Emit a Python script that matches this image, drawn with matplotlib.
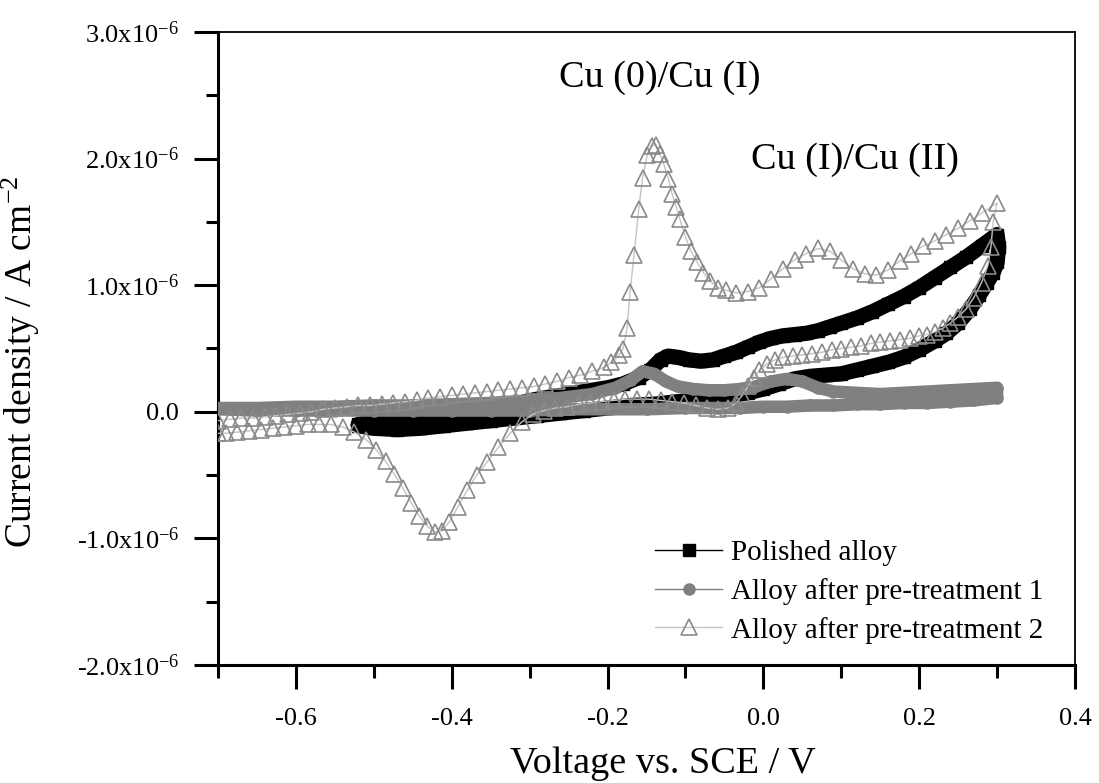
import numpy as np
import matplotlib
matplotlib.use("Agg")
import matplotlib.pyplot as plt
from matplotlib.ticker import MultipleLocator, FuncFormatter

plt.rcParams['font.family'] = ['Liberation Serif', 'DejaVu Serif']
plt.rcParams['mathtext.fontset'] = 'custom'
plt.rcParams['mathtext.rm'] = 'Liberation Serif'
plt.rcParams['mathtext.it'] = 'Liberation Serif:italic'

# corrente em unidades de 1e-6 A cm^-2
# polido - varredura anodica
pol_v_fwd = [-0.52, -0.50, -0.47, -0.44, -0.41, -0.38, -0.35, -0.32, -0.29, -0.26,
             -0.23, -0.20, -0.18, -0.16, -0.145, -0.132, -0.122, -0.110, -0.095, -0.080,
             -0.065, -0.050, -0.035, -0.020, -0.005, 0.010, 0.025, 0.040, 0.055, 0.070,
             0.085, 0.100, 0.120, 0.140, 0.160, 0.180, 0.200, 0.220, 0.240, 0.260,
             0.280, 0.300]
pol_i_fwd = [-0.10, -0.08, -0.06, -0.04, -0.02, 0.00, 0.03, 0.06, 0.10, 0.13,
             0.16, 0.19, 0.22, 0.27, 0.33, 0.41, 0.44, 0.43, 0.41, 0.40,
             0.41, 0.44, 0.47, 0.51, 0.55, 0.58, 0.60, 0.61, 0.62, 0.64,
             0.67, 0.70, 0.74, 0.79, 0.85, 0.91, 0.98, 1.06, 1.14, 1.22,
             1.31, 1.40]
# polido - varredura catodica
pol_v_rev = [0.302, 0.300, 0.295, 0.287, 0.277, 0.265, 0.250, 0.235, 0.220, 0.200,
             0.180, 0.160, 0.140, 0.120, 0.100, 0.080, 0.060, 0.040, 0.020, 0.000,
             -0.020, -0.050, -0.080, -0.110, -0.140, -0.170, -0.200, -0.230, -0.260, -0.290,
             -0.320, -0.350, -0.380, -0.410, -0.440, -0.470, -0.500, -0.520]
pol_i_rev = [1.30, 1.18, 1.10, 1.02, 0.92, 0.81, 0.70, 0.62, 0.56, 0.49,
             0.43, 0.39, 0.36, 0.33, 0.30, 0.29, 0.28, 0.26, 0.22, 0.18,
             0.15, 0.12, 0.10, 0.08, 0.06, 0.05, 0.03, 0.01, -0.01, -0.03,
             -0.05, -0.07, -0.09, -0.11, -0.13, -0.14, -0.13, -0.11]

# pre-tratamento 1
pt1_v_fwd = [-0.70, -0.65, -0.60, -0.55, -0.50, -0.45, -0.40, -0.35, -0.30, -0.26,
             -0.22, -0.19, -0.17, -0.155, -0.14, -0.125, -0.11, -0.09, -0.07, -0.05,
             -0.03, -0.01, 0.01, 0.03, 0.05, 0.07, 0.09, 0.12, 0.15, 0.18,
             0.21, 0.24, 0.27, 0.30]
pt1_i_fwd = [0.03, 0.03, 0.04, 0.04, 0.05, 0.05, 0.06, 0.07, 0.09, 0.11,
             0.14, 0.19, 0.25, 0.32, 0.30, 0.24, 0.20, 0.18, 0.17, 0.17,
             0.18, 0.20, 0.24, 0.26, 0.24, 0.19, 0.16, 0.15, 0.14, 0.15,
             0.16, 0.17, 0.18, 0.19]
pt1_v_rev = [0.30, 0.27, 0.24, 0.21, 0.18, 0.15, 0.12, 0.09, 0.06, 0.03,
             0.00, -0.03, -0.06, -0.10, -0.15, -0.20, -0.25, -0.30, -0.35, -0.40,
             -0.45, -0.50, -0.55, -0.60, -0.65, -0.70]
pt1_i_rev = [0.11, 0.09, 0.08, 0.07, 0.07, 0.06, 0.06, 0.05, 0.05, 0.04,
             0.04, 0.03, 0.03, 0.03, 0.02, 0.02, 0.02, 0.01, 0.01, 0.01,
             0.01, 0.01, 0.01, 0.01, 0.01, 0.02]

# pre-tratamento 2
pt2_v_fwd = [-0.700, -0.685, -0.670, -0.655, -0.640, -0.625, -0.610, -0.595, -0.580, -0.565,
             -0.550, -0.535, -0.520, -0.505, -0.490, -0.475, -0.460, -0.445, -0.430, -0.415,
             -0.400, -0.385, -0.370, -0.355, -0.340, -0.325, -0.310, -0.295, -0.280, -0.265,
             -0.250, -0.235, -0.220, -0.205, -0.195, -0.185, -0.180,
             -0.175, -0.171, -0.166, -0.160, -0.155, -0.149, -0.143, -0.138, -0.133, -0.128,
             -0.122, -0.117, -0.112, -0.107, -0.100, -0.093, -0.085, -0.077, -0.068, -0.058,
             -0.048, -0.035, -0.020, -0.005, 0.010, 0.025, 0.040, 0.055, 0.070, 0.085,
             0.100, 0.115, 0.130, 0.145, 0.160, 0.175, 0.190, 0.205, 0.220, 0.235,
             0.250, 0.265, 0.280, 0.300]
pt2_i_fwd = [-0.07, -0.06, -0.05, -0.05, -0.04, -0.03, -0.02, -0.01, 0.00, 0.02,
             0.03, 0.04, 0.05, 0.05, 0.06, 0.07, 0.08, 0.09, 0.11, 0.12,
             0.13, 0.14, 0.15, 0.16, 0.17, 0.18, 0.19, 0.20, 0.22, 0.24,
             0.27, 0.29, 0.32, 0.35, 0.39, 0.45, 0.50,
             0.66, 0.95, 1.24, 1.60, 1.85, 2.03, 2.10, 2.11, 2.04, 1.96,
             1.84, 1.72, 1.62, 1.52, 1.38, 1.27, 1.18, 1.10, 1.03, 0.98,
             0.96, 0.94, 0.95, 0.98, 1.05, 1.13, 1.20, 1.25, 1.29, 1.27,
             1.20, 1.13, 1.09, 1.08, 1.12, 1.19, 1.25, 1.31, 1.35, 1.40,
             1.45, 1.51, 1.57, 1.65]
pt2_v_rev = [0.295, 0.292, 0.288, 0.280, 0.270, 0.260, 0.250, 0.240, 0.230, 0.220,
             0.210, 0.200, 0.188, 0.175, 0.162, 0.150, 0.138, 0.125, 0.112, 0.100,
             0.088, 0.075, 0.062, 0.050, 0.038, 0.025, 0.015, 0.005, -0.005, -0.012,
             -0.020, -0.027, -0.035, -0.045, -0.058, -0.072, -0.087, -0.102, -0.117, -0.132,
             -0.147, -0.162, -0.177, -0.192, -0.207, -0.222, -0.237, -0.252, -0.267, -0.282,
             -0.296, -0.310, -0.325, -0.340, -0.355, -0.368, -0.380, -0.392, -0.403, -0.413,
             -0.422, -0.432, -0.442, -0.452, -0.463, -0.474, -0.485, -0.497, -0.510, -0.525,
             -0.540, -0.555, -0.570, -0.585, -0.600, -0.615, -0.630, -0.645, -0.660, -0.675,
             -0.690, -0.700]
pt2_i_rev = [1.50, 1.30, 1.15, 1.02, 0.90, 0.81, 0.75, 0.70, 0.66, 0.63,
             0.61, 0.60, 0.58, 0.57, 0.56, 0.55, 0.54, 0.52, 0.51, 0.50,
             0.49, 0.47, 0.46, 0.45, 0.44, 0.43, 0.41, 0.38, 0.33, 0.27,
             0.20, 0.13, 0.07, 0.03, 0.02, 0.03, 0.05, 0.07, 0.08, 0.09,
             0.10, 0.10, 0.10, 0.09, 0.08, 0.07, 0.06, 0.04, 0.03, 0.01,
             -0.02, -0.08, -0.17, -0.28, -0.40, -0.50, -0.62, -0.75, -0.87, -0.94,
             -0.95, -0.90, -0.82, -0.72, -0.60, -0.49, -0.39, -0.30, -0.22, -0.16,
             -0.12, -0.10, -0.10, -0.10, -0.11, -0.12, -0.13, -0.14, -0.15, -0.16,
             -0.17, -0.17]

labels = ["Polished alloy", "Alloy after pre-treatment 1", "Alloy after pre-treatment 2"]


def loop(v_fwd, i_fwd, v_rev, i_rev):
    v = np.array(v_fwd + v_rev)
    i = np.array(i_fwd + i_rev) * 1e-6
    return v, i


fig = plt.figure(figsize=(10.99, 7.83), dpi=100)
ax = fig.add_axes([218 / 1099, 1 - 665 / 783, 857 / 1099, 633 / 783])

# polido (por baixo)
v, i = loop(pol_v_fwd, pol_i_fwd, pol_v_rev, pol_i_rev)
ax.plot(v, i, color='black', lw=11, solid_capstyle='round', zorder=2)
ax.plot(v, i, color='black', lw=1, marker='s', ms=9, label=labels[0], zorder=3)

# pre-tratamento 1
v, i = loop(pt1_v_fwd, pt1_i_fwd, pt1_v_rev, pt1_i_rev)
ax.plot(v, i, color='#808080', lw=9, solid_capstyle='round', zorder=4)
ax.plot(v, i, color='#808080', lw=1, marker='o', ms=8, mec='#808080', mfc='#808080',
        label=labels[1], zorder=5)

# pre-tratamento 2 (triangulos vazados, por cima)
v, i = loop(pt2_v_fwd, pt2_i_fwd, pt2_v_rev, pt2_i_rev)
ax.plot(v, i, color='#c4c4c4', lw=1, marker='^', ms=12, mec='#8a8a8a', mfc='none',
        mew=1.2, label=labels[2], zorder=6)

ax.set_xlim(-0.7, 0.4)
ax.set_ylim(-2.0e-6, 3.0e-6)
ax.xaxis.set_major_locator(MultipleLocator(0.2))
ax.xaxis.set_minor_locator(MultipleLocator(0.1))
ax.yaxis.set_major_locator(MultipleLocator(1.0e-6))
ax.yaxis.set_minor_locator(MultipleLocator(0.5e-6))
ax.xaxis.set_major_formatter(FuncFormatter(lambda x, p: f"{x:.1f}"))


def yfmt(y, p):
    if abs(y) < 1e-12:
        return "0.0"
    return f"{y * 1e6:.1f}x10$^{{-6}}$"


ax.yaxis.set_major_formatter(FuncFormatter(yfmt))

ax.tick_params(which='both', direction='out', top=False, right=False, labelsize=19)
ax.tick_params(which='major', length=17, width=2.2, pad=11)
ax.tick_params(axis='x', which='major', pad=14)
ax.tick_params(which='minor', length=9, width=2.2)
for s in ['left', 'bottom']:
    ax.spines[s].set_linewidth(2.2)
for s in ['top', 'right']:
    ax.spines[s].set_linewidth(1.3)

ax.set_xlabel("Voltage vs. SCE / V", fontsize=27.5)
ax.set_ylabel("Current density / A cm$^{-2}$", fontsize=27)
ax.xaxis.set_label_coords(0.519, -0.128)
ax.yaxis.set_label_coords(-0.205, 0.479)

ax.text(-0.133, 2.64e-6, "Cu (0)/Cu (I)", fontsize=27.5, ha='center', va='center')
ax.text(0.118, 1.99e-6, "Cu (I)/Cu (II)", fontsize=27.5, ha='center', va='center')

h, l = ax.get_legend_handles_labels()
order = [l.index(x) for x in labels]
ax.legend([h[k] for k in order], [l[k] for k in order], loc='upper left',
          bbox_to_anchor=(655 / 1099, 1 - 540 / 783), bbox_transform=fig.transFigure,
          frameon=False, fontsize=21, numpoints=1, handlelength=2.3,
          handletextpad=0.3, labelspacing=0.4, borderpad=0, borderaxespad=0)

fig.savefig("out.png", dpi=100)
